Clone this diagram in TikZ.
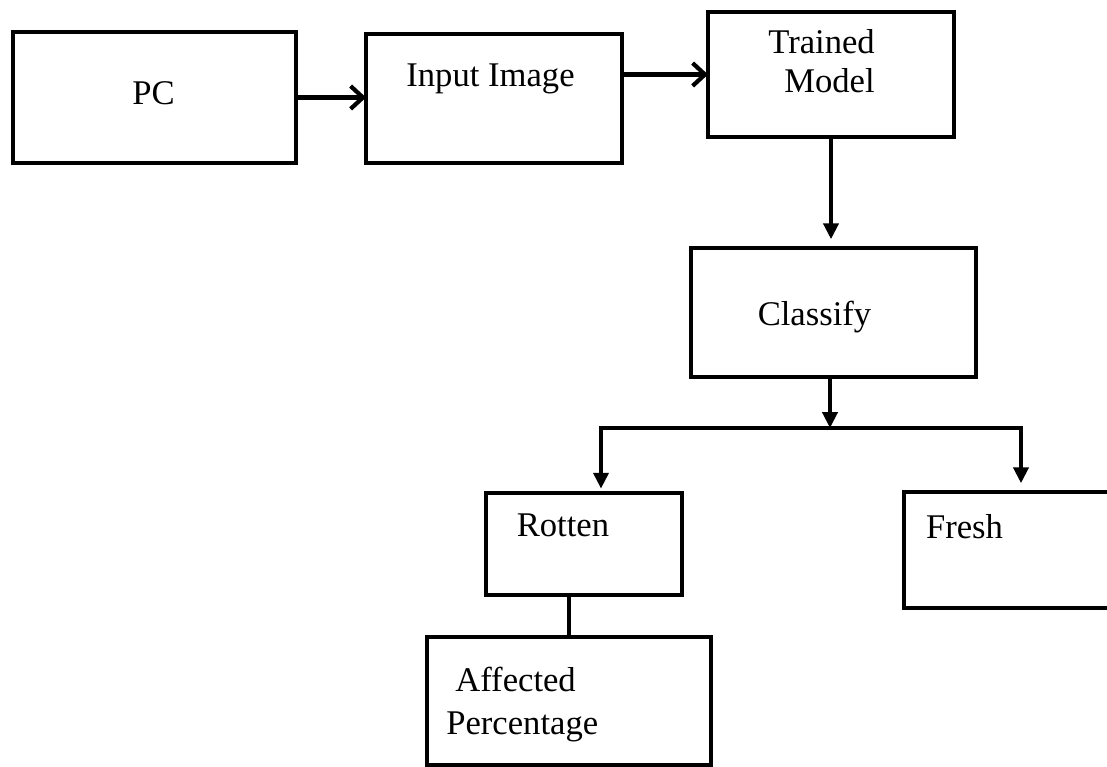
\documentclass[tikz,border=0pt]{standalone}
\usepackage{fontspec}
\setmainfont{Liberation Serif}
\usetikzlibrary{arrows.meta}

\begin{document}
\begin{tikzpicture}[x=0.02cm, y=-0.02cm,
    box/.style={draw, line width=2.4pt, inner sep=0pt, outer sep=0pt},
    lbl/.style={inner sep=0pt, font=\fontsize{19.7}{22.1}\selectfont},
    flow/.style={line width=2.4pt, -{Straight Barb[length=7pt,width=13pt]}},
    down/.style={line width=2.2pt, -{Triangle[length=9pt,width=8.5pt]}}]
    \useasboundingbox (0,0) rectangle (1107,767);
    % boxes
    \node[box, minimum width=5.66cm, minimum height=2.62cm] (pc) at (154.5,97.5) {};
    \node[box, minimum width=5.12cm, minimum height=2.58cm] (input) at (494,98.5) {};
    \node[box, minimum width=4.92cm, minimum height=2.5cm] (trained) at (831,74.5) {};
    \node[box, minimum width=5.7cm, minimum height=2.58cm] (classify) at (833.5,312.5) {};
    \node[box, minimum width=3.92cm, minimum height=2.04cm] (rotten) at (584,544) {};
    \node[box, minimum width=4.32cm, minimum height=2.32cm] (fresh) at (1012,550) {};
    \node[box, minimum width=5.68cm, minimum height=2.56cm] (affected) at (569,701) {};
    % texts
    \node[lbl, anchor=base] (pctext) at (153.5,105) {PC};
    \node[lbl, anchor=base] (inputtext) at (490.5,87) {Input Image};
    \node[lbl, anchor=north west, align=left] (trainedtext) at (768,29) {Trained\\\hspace*{0.32cm}Model};
    \node[lbl, anchor=base] (classifytext) at (814.5,325) {Classify};
    \node[lbl, anchor=base] (rottentext) at (563,536) {Rotten};
    \node[lbl, anchor=base] (freshtext) at (964.5,538) {Fresh};
    \node[lbl, anchor=north west, align=left, font=\fontsize{19.7}{24.4}\selectfont] (affectedtext) at (446,667) {\hspace*{0.18cm}Affected\\Percentage};
    % connectors
    \coordinate (split) at (830,428);
    \coordinate (brL) at (601,428);
    \coordinate (brR) at (1021,428);
    \draw[flow] (pc.east) -- (pc.east -| input.west);
    \draw[flow] (trained.west -| input.east) -- (trained.west);
    \draw[down, shorten >=5pt] (trained.south) -- (trained.south |- classify.north);
    \draw[down] (split |- classify.south) -- (split);
    \draw[down, shorten >=2.5pt] (split) -| (brL |- rotten.north);
    \draw[down, shorten >=5pt] (split) -| (brR |- fresh.north);
    \draw[line width=2.2pt] (affected.north) -- (affected.north |- rotten.south);
\end{tikzpicture}
\end{document}
